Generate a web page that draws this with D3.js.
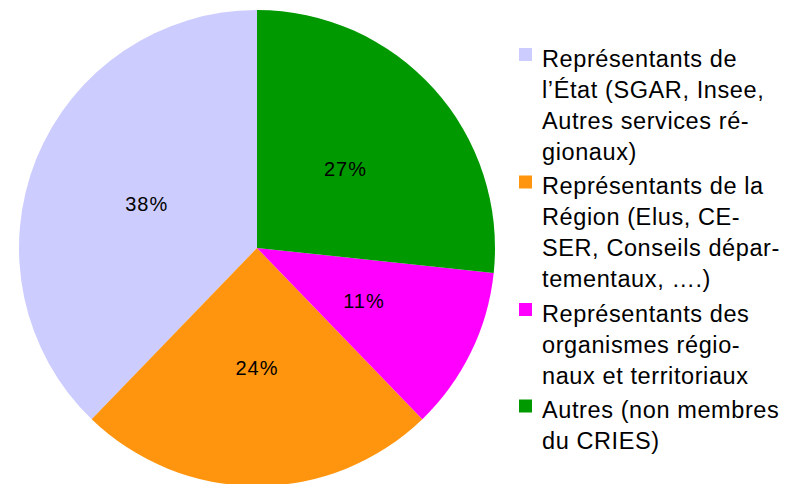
<!DOCTYPE html>
<html>
<head>
<meta charset="utf-8">
<script src="https://cdn.jsdelivr.net/npm/d3@7"></script>
<style>
  html, body { margin: 0; padding: 0; background: #fff; }
  svg { display: block; font-family: "Liberation Sans", Arial, sans-serif; }
</style>
</head>
<body>
<svg id="chart" width="794" height="484"></svg>
<script>
// Categories (legend text, line-wrapped as in the reference)
const categories = [
  ["Représentants de", "l’État (SGAR, Insee,", "Autres services ré-", "gionaux)"],
  ["Représentants de la", "Région (Elus, CE-", "SER, Conseils dépar-", "tementaux, ….)"],
  ["Représentants des", "organismes régio-", "naux et territoriaux"],
  ["Autres (non membres", "du CRIES)"]
];
// Series values (counts), shown as percentages
const values = [34, 22, 10, 24];
const colors = ["#ccccff", "#ff950e", "#ff00ff", "#009900"];

const svg = d3.select("#chart");
const cx = 257, cy = 248, r = 238;

const total = d3.sum(values);
const data = values.map((v, i) => ({ v, i }));

const pie = d3.pie()
  .value(d => d.v)
  .sort(null)
  .startAngle(0)
  .endAngle(-2 * Math.PI);

const arc = d3.arc().innerRadius(0).outerRadius(r);

const g = svg.append("g").attr("transform", `translate(${cx},${cy})`);
const arcs = pie(data);

g.selectAll("path.slice")
  .data(arcs)
  .join("path")
  .attr("class", "slice")
  .attr("d", arc)
  .attr("fill", d => colors[d.data.i]);

const fmt = d => Math.round(d.data.v / total * 100) + "%";
g.selectAll("text.pct")
  .data(arcs)
  .join("text")
  .attr("class", "pct")
  .attr("x", d => arc.centroid(d)[0])
  .attr("y", d => arc.centroid(d)[1] + 7.5)
  .attr("text-anchor", "middle")
  .attr("font-size", 20)
  .attr("letter-spacing", 1)
  .attr("fill", "#000")
  .text(fmt);

// Legend
const lineH = 31, itemGap = 3.5, firstBase = 66.5;
const legend = svg.append("g");
let lineIdx = 0;
categories.forEach((lines, i) => {
  const base0 = firstBase + lineIdx * lineH + i * itemGap;
  legend.append("rect")
    .attr("x", 519)
    .attr("y", base0 - 18.5)
    .attr("width", 13)
    .attr("height", 13)
    .attr("fill", colors[i]);
  const t = legend.append("text")
    .attr("font-size", 23.5)
    .attr("letter-spacing", 0.6)
    .attr("fill", "#000");
  lines.forEach((ln, k) => {
    t.append("tspan")
      .attr("x", 542)
      .attr("y", base0 + k * lineH)
      .text(ln);
  });
  lineIdx += lines.length;
});
</script>
</body>
</html>
